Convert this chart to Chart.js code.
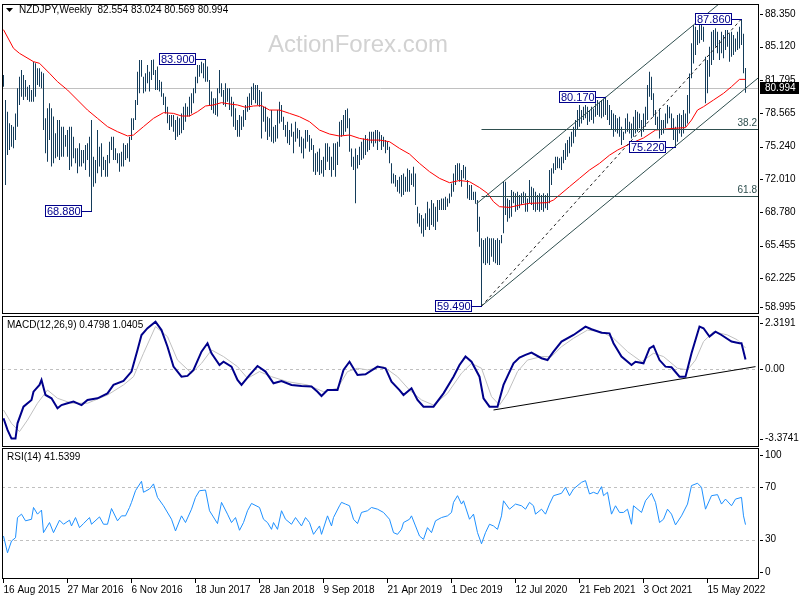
<!DOCTYPE html>
<html>
<head>
<meta charset="utf-8">
<title>NZDJPY Weekly</title>
<script src="https://cdn.jsdelivr.net/npm/chart.js@4.4.1/dist/chart.umd.min.js"></script>
<style>
  body { margin: 0; background: #fff; }
  #wrap { position: relative; width: 800px; height: 600px; overflow: hidden; }
  canvas { position: absolute; left: 0; }
</style>
</head>
<body>
<div id="wrap">
  <canvas id="price" width="800" height="315" style="top:0"></canvas>
  <canvas id="macd" width="800" height="133" style="top:315px"></canvas>
  <canvas id="rsi" width="800" height="152" style="top:448px"></canvas>
</div>
<script>
// ---- data (x = week number from 16 Aug 2015) ----
const dateLabels = ['16 Aug 2015', '27 Mar 2016', '6 Nov 2016', '18 Jun 2017', '28 Jan 2018', '9 Sep 2018',
  '21 Apr 2019', '1 Dec 2019', '12 Jul 2020', '21 Feb 2021', '3 Oct 2021', '15 May 2022']
const dateTickWeeks = [0, 32, 64, 96, 128, 160, 192, 224, 256, 288, 320, 352]

const weekHighs = [
  82.32, 79.85, 78.70, 77.55, 77.38, 77.22, 78.53, 81.01, 82.16, 82.82,
  82.32, 81.83, 81.17, 81.33, 80.84, 83.64, 83.48, 82.98, 82.98, 82.65,
  82.49, 78.04, 79.03, 79.52, 79.03, 78.21, 76.56, 77.88, 77.88, 77.22,
  77.22, 76.39, 76.89, 77.22, 77.22, 76.23, 75.08, 75.08, 75.57, 74.91,
  74.91, 75.41, 75.57, 76.23, 77.88, 74.25, 73.92, 76.89, 75.24, 75.57,
  74.25, 73.92, 74.42, 75.73, 76.23, 76.23, 75.08, 74.58, 74.58, 74.75,
  75.57, 75.41, 75.57, 76.23, 78.04, 78.04, 79.85, 82.65, 83.81, 83.81,
  82.16, 82.49, 83.31, 82.65, 83.81, 83.85, 82.82, 83.15, 81.83, 81.66,
  80.51, 80.18, 79.19, 78.37, 78.37, 78.37, 77.88, 78.21, 78.04, 78.53,
  79.19, 79.52, 79.19, 80.18, 80.51, 81.01, 82.16, 83.31, 83.31, 83.64,
  83.48, 83.90, 83.15, 81.83, 80.68, 80.02, 80.02, 81.01, 82.82, 81.50,
  80.84, 81.50, 81.01, 81.01, 80.18, 79.69, 79.03, 77.88, 78.37, 78.21,
  78.86, 79.36, 80.18, 80.51, 81.17, 81.50, 81.33, 81.33, 80.84, 80.67,
  79.19, 79.19, 78.20, 78.04, 78.86, 77.21, 77.38, 78.86, 79.68, 79.35,
  78.20, 77.38, 77.71, 76.88, 77.54, 76.72, 77.71, 77.05, 76.88, 76.22,
  76.06, 76.88, 76.88, 76.39, 76.06, 75.40, 74.58, 74.74, 75.07, 73.92,
  74.25, 75.57, 75.57, 75.24, 74.25, 75.57, 75.57, 75.73, 77.71, 77.87,
  78.36, 78.86, 79.02, 78.04, 75.07, 74.25, 75.07, 74.41, 75.24, 75.73,
  76.06, 76.39, 76.06, 76.72, 76.72, 76.72, 76.88, 76.88, 76.72, 76.39,
  76.22, 75.89, 75.73, 75.24, 73.59, 72.60, 72.44, 71.94, 72.27, 72.44,
  72.60, 72.27, 73.09, 72.93, 72.60, 73.26, 72.60, 69.31, 68.65, 68.48,
  68.15, 68.65, 69.80, 69.14, 69.97, 69.64, 69.31, 69.97, 69.97, 70.13,
  70.13, 70.29, 70.13, 70.62, 71.61, 72.60, 73.42, 73.59, 73.59, 72.93,
  73.42, 73.26, 71.94, 71.45, 71.45, 70.79, 70.79, 69.97, 68.32, 66.18,
  66.02, 66.18, 66.35, 66.18, 66.18, 66.18, 66.02, 66.18, 66.02, 66.51,
  71.78, 71.78, 70.13, 69.97, 70.96, 70.79, 70.63, 70.79, 70.46, 70.63,
  70.79, 70.63, 70.13, 71.95, 71.29, 71.12, 70.79, 70.46, 70.63, 70.46,
  70.63, 70.46, 70.63, 72.93, 73.10, 73.59, 74.25, 74.25, 74.09, 74.25,
  74.91, 75.57, 75.90, 76.22, 76.72, 77.21, 77.87, 78.86, 79.35, 78.86,
  79.19, 79.35, 79.19, 78.86, 79.19, 79.02, 79.52, 79.85, 79.68, 79.85,
  80.01, 80.17, 79.85, 79.35, 78.86, 78.53, 78.37, 78.04, 78.20, 77.21,
  76.72, 78.04, 78.53, 77.71, 77.54, 78.20, 78.86, 78.70, 78.53, 77.87,
  78.53, 79.19, 81.33, 82.65, 82.15, 80.51, 78.86, 78.20, 79.02, 77.87,
  77.87, 78.53, 79.35, 79.19, 78.53, 78.04, 77.21, 78.37, 78.53, 78.37,
  78.86, 78.53, 80.34, 82.48, 85.45, 87.26, 87.09, 86.77, 87.42, 87.26,
  87.09, 84.13, 83.80, 85.12, 86.60, 86.77, 86.93, 86.60, 85.78, 86.60,
  86.27, 86.77, 86.77, 86.44, 86.60, 86.27, 85.94, 86.60, 87.09, 87.86,
  86.40, 83.02
]
const weekLows = [
  81.17, 71.45, 74.42, 74.91, 75.24, 75.08, 75.90, 77.22, 79.36, 80.18,
  79.85, 80.18, 79.85, 79.69, 79.69, 79.69, 80.18, 81.33, 81.17, 81.01,
  76.89, 74.58, 73.76, 75.90, 73.27, 73.59, 74.09, 74.25, 73.92, 74.25,
  74.25, 75.24, 74.25, 72.94, 73.27, 74.09, 73.59, 72.61, 73.27, 73.27,
  73.59, 72.94, 73.92, 72.28, 68.88, 71.29, 71.62, 72.61, 73.27, 72.28,
  72.94, 72.28, 72.28, 73.59, 74.91, 73.92, 73.92, 73.59, 72.77, 73.27,
  73.27, 73.92, 74.09, 73.76, 75.90, 76.89, 77.88, 79.36, 80.51, 82.16,
  80.51, 80.68, 81.50, 80.68, 81.83, 82.32, 80.84, 80.84, 80.68, 80.18,
  79.36, 78.53, 77.55, 76.89, 77.22, 76.72, 75.90, 76.23, 76.39, 76.56,
  76.89, 77.71, 78.21, 78.21, 78.53, 79.52, 80.51, 81.50, 82.16, 82.49,
  81.99, 81.66, 81.66, 79.36, 78.86, 78.53, 78.37, 78.21, 80.51, 80.18,
  79.36, 79.19, 79.69, 78.86, 78.21, 77.22, 76.89, 76.23, 76.23, 76.89,
  77.22, 77.88, 78.70, 78.86, 79.36, 79.85, 79.52, 79.36, 79.19, 76.06,
  77.71, 76.72, 75.89, 76.22, 75.73, 75.57, 75.73, 76.06, 77.54, 77.71,
  76.88, 76.22, 75.57, 75.40, 76.22, 74.58, 75.73, 76.06, 75.24, 74.58,
  74.08, 75.07, 75.73, 74.74, 74.91, 72.77, 72.44, 72.77, 72.44, 72.60,
  72.27, 72.93, 73.75, 72.93, 72.27, 72.93, 72.27, 73.42, 75.24, 76.22,
  76.39, 76.72, 77.05, 74.74, 73.26, 72.93, 69.64, 73.09, 73.42, 73.92,
  74.08, 74.41, 74.74, 74.91, 75.57, 75.24, 75.57, 74.91, 75.73, 74.91,
  75.24, 74.58, 74.91, 73.59, 71.61, 71.61, 71.28, 70.79, 70.62, 70.29,
  70.46, 70.79, 70.79, 70.79, 71.45, 71.28, 69.47, 67.66, 67.33, 66.67,
  66.34, 67.00, 67.33, 67.00, 67.49, 67.33, 67.00, 67.82, 68.98, 68.98,
  68.98, 68.98, 69.31, 69.64, 70.29, 70.79, 71.45, 71.94, 71.78, 71.28,
  72.11, 71.94, 70.13, 69.97, 69.97, 69.97, 69.60, 66.84, 65.36, 59.49,
  63.71, 63.55, 63.71, 63.55, 64.37, 63.87, 63.71, 63.55, 63.55, 65.69,
  66.68, 68.49, 67.83, 68.16, 68.32, 69.64, 68.82, 68.98, 69.15, 69.47,
  69.64, 68.82, 68.82, 69.64, 69.47, 68.98, 68.82, 68.98, 68.82, 68.98,
  68.82, 69.15, 68.98, 69.64, 71.45, 72.60, 72.93, 73.10, 73.10, 72.93,
  73.59, 73.92, 74.25, 74.58, 75.24, 75.57, 76.22, 76.88, 77.21, 77.54,
  77.87, 78.04, 77.38, 77.71, 77.87, 77.54, 78.20, 78.37, 78.20, 78.04,
  78.20, 78.37, 77.87, 77.38, 76.88, 76.22, 76.72, 76.55, 76.22, 75.40,
  75.90, 76.55, 76.72, 76.55, 76.06, 76.22, 76.55, 76.72, 77.05, 76.22,
  76.72, 77.21, 77.87, 80.18, 79.85, 78.20, 77.38, 76.88, 76.06, 76.39,
  76.55, 77.05, 77.54, 78.04, 76.88, 75.90, 75.22, 75.73, 76.55, 76.22,
  76.55, 77.21, 77.54, 78.53, 81.99, 83.47, 84.29, 85.28, 85.45, 85.78,
  85.61, 79.52, 80.51, 82.15, 83.31, 83.80, 85.12, 84.46, 83.80, 84.46,
  83.97, 84.79, 85.12, 83.64, 84.13, 84.29, 84.62, 84.79, 84.95, 85.28,
  82.50, 80.57
]

const headerText = 'NZDJPY,Weekly  82.554 83.024 80.569 80.994'
const lastClose = 80.994

const maPoints = [
  [0, 86.8], [5, 84.96], [8, 84.46], [15, 83.64], [18, 83.48], [23, 82.49], [27, 81.66], [32, 80.84],
  [37, 79.85], [42, 78.86], [47, 78.04], [52, 77.22], [57, 76.72], [62, 76.30], [65, 76.39], [70, 77.22],
  [75, 78.04], [80, 78.60], [85, 78.53], [89, 78.27], [93, 78.27], [97, 78.70], [101, 79.26], [105, 79.36],
  [109, 79.59], [113, 79.46], [117, 79.36], [121, 79.13], [125, 79.26], [129, 79.30], [133, 78.86], [138, 78.86],
  [143, 78.53], [148, 78.20], [153, 77.71], [158, 76.88], [163, 76.49], [168, 76.29], [173, 76.39], [178, 76.06],
  [183, 75.89], [188, 75.89], [193, 75.73], [198, 75.07], [203, 74.51], [208, 73.59], [213, 72.77], [218, 72.11],
  [223, 71.68], [228, 71.90], [233, 71.78], [238, 71.20], [242, 70.63], [245, 69.80], [248, 69.31], [253, 69.24],
  [258, 69.47], [263, 69.64], [272, 69.71], [275, 69.97], [278, 70.46], [283, 71.29], [288, 72.11], [293, 72.93],
  [298, 73.59], [303, 74.40], [307, 74.90], [313, 75.50], [320, 76.10], [326, 76.88], [335, 77.05], [341, 77.12],
  [344, 77.87], [347, 78.86], [350, 79.19], [355, 79.85], [360, 80.51], [364, 81.17], [368, 81.89], [371, 81.89]
]

const priceTicks = [88.350, 85.120, 81.795, 78.565, 75.240, 72.010, 68.780, 65.455, 62.225, 58.995]

// swing labels: [week, price]
const swingLabels = [[44, 68.88], [101, 83.9], [239, 59.49], [301, 80.17], [336, 75.22], [369, 87.86]]
// fibonacci levels drawn from the 59.490 low: [name, price]
const fibLevels = [['38.2', 77.02], ['61.8', 70.33]]
const fibStartWeek = 239
const channelLower = [[239, 59.49], [377.75, 82.1]]
const channelUpper = [[236.5, 69.6], [377.75, 92.6]]
const channelMid = [[239, 59.49], [369, 87.86]]

const macdPoints = [
  [0, -2.38], [2, -2.95], [4, -3.37], [6, -3.37], [7, -2.63], [10, -1.82], [14, -1.49], [15, -1.09],
  [18, -0.76], [19, -0.52], [21, -1.25], [24, -1.41], [27, -1.90], [29, -1.74], [32, -1.65], [35, -1.57],
  [39, -1.74], [42, -1.49], [47, -1.41], [52, -1.17], [55, -0.76], [60, -0.57], [64, -0.11], [67, 0.94],
  [69, 1.67], [72, 2.00], [76, 2.32], [79, 1.91], [82, 1.10], [85, 0.13], [89, -0.36], [92, -0.32],
  [95, -0.03], [99, 0.86], [102, 1.27], [104, 0.78], [108, 0.21], [110, 0.37], [114, 0.13], [117, -0.52],
  [119, -0.76], [123, -0.28], [127, 0.16], [131, -0.11], [135, -0.68], [139, -0.57], [144, -0.76], [149, -0.81],
  [154, -0.84], [157, -1.09], [159, -1.30], [162, -1.01], [167, -1.01], [170, -0.03], [173, 0.37], [177, -0.28],
  [181, -0.24], [187, 0.13], [191, 0.05], [194, -0.60], [198, -1.01], [200, -1.25], [204, -0.92], [207, -1.49],
  [210, -1.82], [215, -1.82], [220, -1.17], [225, -0.36], [228, 0.21], [231, 0.62], [234, 0.37], [238, -0.36],
  [240, -1.41], [243, -1.82], [247, -1.82], [250, -0.76], [255, 0.29], [258, 0.57], [261, 0.70], [264, 0.81],
  [269, 0.54], [272, 0.45], [275, 0.86], [279, 1.35], [285, 1.67], [291, 2.08], [294, 1.95], [299, 1.78],
  [303, 1.75], [305, 1.27], [309, 0.62], [314, 0.21], [316, 0.37], [320, 0.29], [323, 1.02], [325, 1.14],
  [328, 0.45], [331, 0.13], [334, 0.10], [338, -0.36], [341, -0.36], [344, 0.78], [348, 2.08], [350, 2.00],
  [353, 1.59], [356, 1.83], [359, 1.67], [364, 1.35], [368, 1.27], [369, 1.27], [371, 0.48]
]
const signalPoints = [
  [0, -1.98], [4, -2.63], [8, -3.03], [12, -2.47], [17, -1.65], [22, -1.01], [27, -1.41], [34, -1.65],
  [42, -1.65], [52, -1.25], [60, -0.76], [65, -0.36], [70, 0.78], [76, 2.08], [82, 1.59], [87, 0.45],
  [94, -0.19], [99, 0.29], [104, 0.94], [110, 0.62], [117, 0.13], [122, -0.44], [128, -0.11], [134, -0.36],
  [142, -0.60], [152, -0.76], [160, -1.09], [167, -0.92], [172, -0.11], [177, 0.05], [182, -0.03], [190, 0.13],
  [197, -0.36], [203, -1.01], [209, -1.49], [215, -1.74], [222, -1.17], [229, -0.19], [234, 0.29], [239, 0.05],
  [244, -1.33], [248, -1.74], [252, -1.17], [257, -0.11], [262, 0.45], [269, 0.62], [274, 0.62], [279, 1.10],
  [285, 1.51], [292, 1.91], [299, 1.83], [305, 1.51], [312, 0.86], [319, 0.37], [325, 0.78], [330, 0.62],
  [337, 0.05], [342, -0.03], [346, 0.45], [350, 1.35], [355, 1.83], [362, 1.67], [367, 1.43], [371, 1.04]
]
const macdTrend = [[245, -1.98], [376, 0.13]]
const macdTicks = [2.3191, 0, -3.3741]
const macdTitle = 'MACD(12,26,9) 0.4798 1.0405'

const rsiPoints = [
  [0, 32.8], [2, 20.0], [4, 29.0], [6, 31.5], [7, 46.9], [9, 49.5], [11, 44.4], [14, 45.6], [15, 54.6], [17, 49.5],
  [19, 52.6], [20, 35.4], [23, 43.1], [25, 35.4], [28, 44.9], [30, 41.8], [33, 44.9], [34, 40.5], [36, 46.9], [38, 39.2],
  [40, 42.3], [43, 46.9], [44, 41.8], [48, 47.4], [50, 41.8], [52, 41.8], [54, 53.8], [57, 44.4], [59, 48.2], [61, 48.2],
  [63, 54.6], [64, 58.5], [66, 67.4], [69, 74.6], [70, 66.2], [73, 68.7], [75, 72.6], [77, 62.3], [80, 55.9], [84, 45.6],
  [86, 36.7], [89, 48.2], [91, 43.1], [94, 53.3], [96, 62.3], [98, 67.4], [101, 67.9], [103, 52.1], [107, 42.3], [109, 58.5],
  [112, 49.5], [114, 43.1], [116, 46.9], [118, 37.2], [120, 43.1], [122, 52.1], [124, 57.7], [128, 54.6], [130, 45.6], [132, 43.1],
  [134, 37.9], [135, 43.1], [137, 37.9], [139, 52.1], [141, 45.6], [144, 41.8], [146, 46.9], [149, 40.5], [151, 46.9], [153, 43.1],
  [155, 34.1], [158, 40.5], [159, 34.1], [162, 48.2], [164, 40.5], [165, 46.9], [168, 55.9], [169, 58.5], [171, 57.2], [173, 55.9],
  [175, 45.6], [177, 42.3], [179, 50.8], [182, 52.1], [184, 54.6], [187, 53.3], [190, 50.8], [193, 45.6], [195, 35.4], [197, 34.1],
  [199, 38.0], [200, 43.1], [203, 45.6], [204, 48.2], [206, 40.5], [208, 32.8], [210, 30.3], [212, 39.2], [214, 35.4], [216, 44.4],
  [219, 46.9], [222, 48.2], [224, 50.8], [225, 58.5], [227, 63.6], [229, 57.2], [230, 59.7], [233, 45.6], [235, 49.5], [237, 35.4],
  [239, 26.9], [241, 35.4], [243, 41.8], [245, 40.5], [247, 37.9], [249, 48.2], [250, 59.7], [253, 53.3], [256, 57.2], [259, 55.9],
  [261, 53.3], [263, 58.5], [265, 55.9], [266, 49.5], [269, 53.3], [271, 49.5], [273, 57.2], [275, 63.6], [279, 65.4], [281, 70.0],
  [283, 63.6], [285, 68.7], [289, 73.8], [291, 75.1], [293, 64.9], [295, 66.2], [297, 64.9], [299, 70.5], [300, 63.6], [302, 66.2],
  [304, 49.5], [306, 55.9], [308, 50.8], [310, 50.8], [312, 53.3], [314, 41.8], [315, 55.9], [319, 50.8], [321, 59.7], [324, 65.4],
  [326, 58.5], [328, 43.1], [330, 45.6], [332, 53.3], [334, 49.5], [336, 41.3], [339, 48.2], [342, 57.2], [344, 71.3], [347, 73.1],
  [349, 70.0], [351, 53.3], [354, 63.6], [357, 64.4], [359, 57.2], [361, 61.0], [364, 55.9], [366, 61.0], [369, 62.3], [370, 48.2],
  [371, 41.5]
]
const rsiLevels = [70, 30]
const rsiTicks = [100, 70, 30, 0]
const rsiTitle = 'RSI(14) 41.5399'

// ---- drawing ----
const FONT_FAMILY = '"Liberation Sans", Arial, sans-serif'
const FONT = '10px ' + FONT_FAMILY
Chart.defaults.font.family = FONT_FAMILY
Chart.defaults.font.size = 10
Chart.defaults.color = '#000'

const X_MIN = -0.75
const X_MAX = 377.75
const AXIS_W = 41
const barColor = '#143c5a'
const navy = '#00008b'
const slate = '#2f4f4f'

const toXY = pts => pts.map(([x, y]) => ({ x, y }))

function panelDecor({ ticks, fmt, title, levels, under, over, after }) {
  return {
    id: 'panelDecor',
    beforeDatasetsDraw(chart) {
      const { ctx, chartArea: a, scales: { y } } = chart
      ctx.save()
      ctx.strokeStyle = '#c0c0c0'
      ctx.lineWidth = 1
      ctx.setLineDash([3, 3])
      for (const v of levels || []) {
        const py = Math.round(y.getPixelForValue(v)) + 0.5
        ctx.beginPath()
        ctx.moveTo(a.left, py)
        ctx.lineTo(a.right, py)
        ctx.stroke()
      }
      ctx.restore()
      if (under) {
        ctx.save()
        under(chart)
        ctx.restore()
      }
    },
    afterDatasetsDraw(chart) {
      const { ctx, chartArea: a, scales: { y } } = chart
      if (over) {
        ctx.save()
        ctx.beginPath()
        ctx.rect(a.left, a.top, a.right - a.left, a.bottom - a.top)
        ctx.clip()
        over(chart)
        ctx.restore()
      }
      ctx.save()
      ctx.strokeStyle = '#000'
      ctx.lineWidth = 1
      ctx.strokeRect(a.left + 0.5, a.top + 0.5, a.right - a.left - 1, a.bottom - a.top - 1)
      ctx.font = FONT
      ctx.fillStyle = '#000'
      ctx.textAlign = 'left'
      ctx.textBaseline = 'middle'
      for (const v of ticks) {
        const py = Math.min(Math.max(y.getPixelForValue(v), a.top + 7), a.bottom - 7)
        const ry = Math.round(py) + 0.5
        ctx.beginPath()
        ctx.moveTo(a.right + 1, ry)
        ctx.lineTo(a.right + 4, ry)
        ctx.stroke()
        ctx.fillText(fmt(v), a.right + 6, py)
      }
      if (title) ctx.fillText(title, a.left + 5, a.top + 9)
      ctx.restore()
      if (after) {
        ctx.save()
        after(chart)
        ctx.restore()
      }
    }
  }
}

function panelOptions(yMin, yMax, padding, xAxis) {
  return {
    responsive: false,
    animation: false,
    devicePixelRatio: 1,
    layout: { padding },
    plugins: { legend: { display: false }, tooltip: { enabled: false } },
    scales: {
      x: xAxis || { type: 'linear', min: X_MIN, max: X_MAX, offset: false, grid: { offset: false }, display: false },
      y: {
        position: 'right',
        min: yMin,
        max: yMax,
        ticks: { display: false },
        grid: { display: false },
        border: { display: false },
        afterFit(s) { s.width = AXIS_W }
      }
    }
  }
}

function segment(chart, seg) {
  const { ctx, scales: { x, y } } = chart
  ctx.beginPath()
  ctx.moveTo(x.getPixelForValue(seg[0][0]), y.getPixelForValue(seg[0][1]))
  ctx.lineTo(x.getPixelForValue(seg[1][0]), y.getPixelForValue(seg[1][1]))
  ctx.stroke()
}

function swingLabel(chart, week, price) {
  const { ctx, scales: { x, y } } = chart
  const bx = Math.round(x.getPixelForValue(week) - 0.5)
  const by = Math.round(y.getPixelForValue(price))
  const text = price.toFixed(3)
  ctx.font = '11px ' + FONT_FAMILY
  const w = Math.ceil(ctx.measureText(text).width) + 3
  const right = bx - 9
  ctx.fillStyle = '#fff'
  ctx.fillRect(right - w, by - 6, w, 12)
  ctx.strokeStyle = navy
  ctx.lineWidth = 1
  ctx.strokeRect(right - w + 0.5, by - 5.5, w - 1, 11)
  ctx.beginPath()
  ctx.moveTo(right, by + 0.5)
  ctx.lineTo(bx + 1, by + 0.5)
  ctx.stroke()
  ctx.fillStyle = navy
  ctx.textAlign = 'left'
  ctx.textBaseline = 'middle'
  ctx.fillText(text, right - w + 2, by + 1)
}

// price panel
new Chart(document.getElementById('price'), {
  type: 'bar',
  data: {
    datasets: [
      {
        type: 'line',
        data: toXY(maPoints),
        borderColor: '#ff0000',
        borderWidth: 1,
        pointRadius: 0,
        tension: 0,
        order: 0
      },
      {
        type: 'bar',
        data: weekHighs.map((h, i) => ({ x: i, y: [weekLows[i], h] })),
        backgroundColor: barColor,
        barThickness: 1,
        inflateAmount: 0,
        borderWidth: 0,
        order: 1
      }
    ]
  },
  options: panelOptions(58.706, 89.338, { left: 2, right: 0, top: 4, bottom: 1 }),
  plugins: [panelDecor({
    ticks: priceTicks,
    fmt: v => v.toFixed(3),
    under(chart) {
      const { ctx, chartArea: a, scales: { y } } = chart
      ctx.font = '24px ' + FONT_FAMILY
      ctx.fillStyle = '#d2d2d2'
      ctx.textAlign = 'center'
      ctx.textBaseline = 'middle'
      ctx.fillText('ActionForex.com', 358, 45)
      const py = Math.round(y.getPixelForValue(lastClose)) + 0.5
      ctx.strokeStyle = '#c0c0c0'
      ctx.lineWidth = 1
      ctx.beginPath()
      ctx.moveTo(a.left, py)
      ctx.lineTo(a.right, py)
      ctx.stroke()
    },
    over(chart) {
      const { ctx, chartArea: a, scales: { x, y } } = chart
      ctx.lineWidth = 1
      ctx.strokeStyle = slate
      ctx.fillStyle = slate
      ctx.font = FONT
      ctx.textAlign = 'right'
      ctx.textBaseline = 'bottom'
      for (const [name, v] of fibLevels) {
        const py = Math.round(y.getPixelForValue(v)) + 0.5
        ctx.beginPath()
        ctx.moveTo(x.getPixelForValue(fibStartWeek), py)
        ctx.lineTo(a.right, py)
        ctx.stroke()
        ctx.fillText(name, a.right - 2, py - 1)
      }
      segment(chart, channelLower)
      segment(chart, channelUpper)
      ctx.strokeStyle = '#202020'
      ctx.setLineDash([3, 3])
      segment(chart, channelMid)
      ctx.setLineDash([])
      for (const [week, price] of swingLabels) swingLabel(chart, week, price)
      // header
      ctx.fillStyle = '#000'
      ctx.beginPath()
      ctx.moveTo(6, 8)
      ctx.lineTo(13, 8)
      ctx.lineTo(9.5, 12)
      ctx.closePath()
      ctx.fill()
      ctx.font = FONT
      ctx.textAlign = 'left'
      ctx.textBaseline = 'middle'
      ctx.fillText(headerText, 19, 10)
    },
    after(chart) {
      const { ctx, chartArea: a, scales: { y } } = chart
      const py = Math.round(y.getPixelForValue(lastClose))
      ctx.fillStyle = '#000'
      ctx.fillRect(a.right + 1, py - 6, 39, 12)
      ctx.fillStyle = '#fff'
      ctx.font = FONT
      ctx.textAlign = 'left'
      ctx.textBaseline = 'middle'
      ctx.fillText(lastClose.toFixed(3), a.right + 6, py + 0.5)
    }
  })]
})

// MACD panel
new Chart(document.getElementById('macd'), {
  type: 'line',
  data: {
    datasets: [
      { data: toXY(macdPoints), borderColor: '#00008b', borderWidth: 2, pointRadius: 0, tension: 0, order: 0 },
      { data: toXY(signalPoints), borderColor: '#c0c0c0', borderWidth: 1, pointRadius: 0, tension: 0, order: 1 }
    ]
  },
  options: panelOptions(-3.781, 2.594, { left: 2, right: 0, top: 1, bottom: 1 }),
  plugins: [panelDecor({
    ticks: macdTicks,
    fmt: v => (v === 0 ? '0.00' : v.toFixed(4)),
    title: macdTitle,
    levels: [0],
    over(chart) {
      chart.ctx.strokeStyle = '#000'
      chart.ctx.lineWidth = 1
      segment(chart, macdTrend)
    }
  })]
})

// RSI panel with the date axis
new Chart(document.getElementById('rsi'), {
  type: 'line',
  data: {
    datasets: [
      { data: toXY(rsiPoints), borderColor: '#1e90ff', borderWidth: 1, pointRadius: 0, tension: 0 }
    ]
  },
  options: panelOptions(0, 100, { left: 2, right: 0, top: 0, bottom: 0 }, {
    type: 'linear',
    min: X_MIN,
    max: X_MAX,
    position: 'bottom',
    afterBuildTicks(s) { s.ticks = dateTickWeeks.map(value => ({ value })) },
    afterFit(s) { s.height = 21 },
    ticks: {
      autoSkip: false,
      maxRotation: 0,
      minRotation: 0,
      align: 'start',
      padding: 1,
      color: '#000',
      font: { size: 10 },
      callback: (v, i) => dateLabels[i]
    },
    grid: { drawOnChartArea: false, drawTicks: true, tickLength: 4, color: '#000', lineWidth: 1 },
    border: { display: false }
  }),
  plugins: [panelDecor({
    ticks: rsiTicks,
    fmt: v => String(v),
    title: rsiTitle,
    levels: rsiLevels
  })]
})
</script>
</body>
</html>
